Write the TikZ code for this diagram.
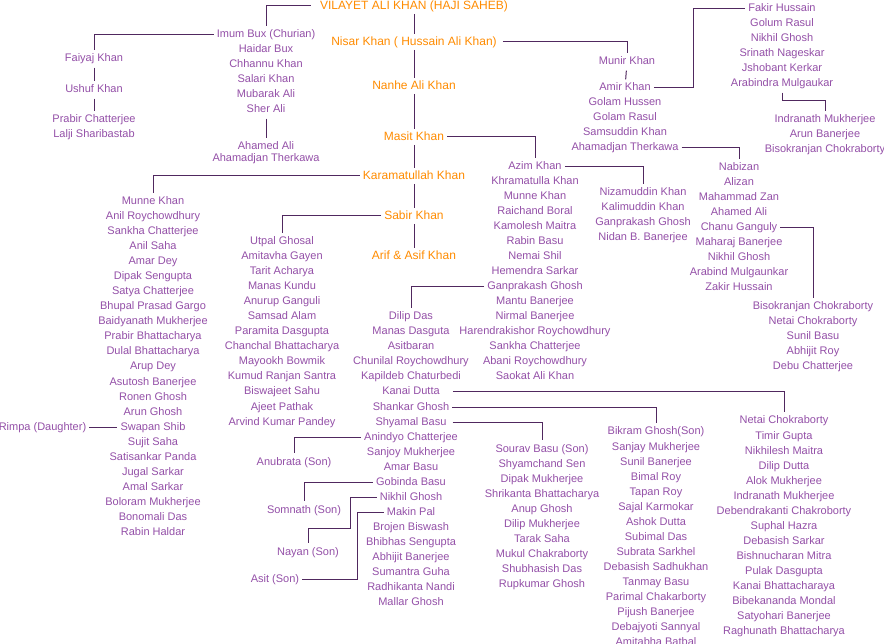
\documentclass[tikz,border=0pt]{standalone}
\usepackage{fontspec}
\setmainfont{Liberation Sans}
\definecolor{namec}{RGB}{148,80,168}
\definecolor{mainc}{RGB}{255,140,0}
\definecolor{linec}{RGB}{80,40,95}
\tikzset{
  pname/.style={text=namec, font=\fontsize{11}{13}\selectfont, inner xsep=3pt, inner ysep=3.5pt, text height=8pt, text depth=2pt},
  mname/.style={text=mainc, font=\fontsize{12}{14}\selectfont, inner xsep=3pt, inner ysep=2pt, text height=9pt, text depth=2.5pt},
  link/.style={draw=linec, line width=1pt}
}
\newcommand\namecol[4]{\foreach \t [count=\i] in {#4} {\node[pname] (#1-\i) at ({#2},{#3+15*(\i-1)}) {\t};}}
\begin{document}
\begin{tikzpicture}[x=1pt,y=-1pt]
\useasboundingbox[fill=white] (0,0) rectangle (884,644);
\begin{scope}[shift={(0,2)}]
% main line
\node[mname] (vil) at (414,4) {VILAYET ALI KHAN (HAJI SAHEB)};
\node[mname] (nis) at (414,40) {Nisar Khan ( Hussain Ali Khan)};
\node[mname] (nan) at (414,84) {Nanhe Ali Khan};
\node[mname] (mas) at (414,135) {Masit Khan};
\node[mname] (kar) at (414,174) {Karamatullah Khan};
\node[mname] (sab) at (414,214) {Sabir Khan};
\node[mname] (ari) at (414,254) {Arif \& Asif Khan};
% lists
\namecol{i}{266}{33}{Imum Bux (Churian),Haidar Bux,Chhannu Khan,Salari Khan,Mubarak Ali,Sher Ali}
\node[pname] (ah1) at (266,145) {Ahamed Ali};
\node[pname] (ah2) at (266,157) {Ahamadjan Therkawa};
\node[pname] (fai) at (94,57) {Faiyaj Khan};
\node[pname] (ush) at (94,88) {Ushuf Khan};
\namecol{pr}{94}{118}{Prabir Chatterjee,Lalji Sharibastab}
\namecol{m}{153}{200}{Munne Khan,Anil Roychowdhury,Sankha Chatterjee,Anil Saha,Amar Dey,Dipak Sengupta,Satya Chatterjee,Bhupal Prasad Gargo,Baidyanath Mukherjee,Prabir Bhattacharya,Dulal Bhattacharya,Arup Dey,Asutosh Banerjee,Ronen Ghosh,Arun Ghosh,Swapan Shib,Sujit Saha,Satisankar Panda,Jugal Sarkar,Amal Sarkar,Boloram Mukherjee,Bonomali Das,Rabin Haldar}
\node[pname] (rim) at (42.5,425) {Rimpa (Daughter)};
\namecol{u}{282}{240}{Utpal Ghosal,Amitavha Gayen,Tarit Acharya,Manas Kundu,Anurup Ganguli,Samsad Alam,Paramita Dasgupta,Chanchal Bhattacharya,Mayookh Bowmik,Kumud Ranjan Santra,Biswajeet Sahu,Ajeet Pathak,Arvind Kumar Pandey}
\namecol{az}{535}{165}{Azim Khan,Khramatulla Khan,Munne Khan,Raichand Boral,Kamolesh Maitra,Rabin Basu,Nemai Shil,Hemendra Sarkar,Ganprakash Ghosh,Mantu Banerjee,Nirmal Banerjee,Harendrakishor Roychowdhury,Sankha Chatterjee,Abani Roychowdhury,Saokat Ali Khan}
\namecol{d}{411}{315}{Dilip Das,Manas Dasguta,Asitbaran,Chunilal Roychowdhury,Kapildeb Chaturbedi,Kanai Dutta,Shankar Ghosh,Shyamal Basu,Anindyo Chatterjee,Sanjoy Mukherjee,Amar Basu,Gobinda Basu,Nikhil Ghosh,Makin Pal,Brojen Biswash,Bhibhas Sengupta,Abhijit Banerjee,Sumantra Guha,Radhikanta Nandi,Mallar Ghosh}
\namecol{nz}{643}{191}{Nizamuddin Khan,Kalimuddin Khan,Ganprakash Ghosh,Nidan B. Banerjee}
\node[pname] (mun) at (627,60) {Munir Khan};
\namecol{am}{625}{86}{Amir Khan,Golam Hussen,Golam Rasul,Samsuddin Khan,Ahamadjan Therkawa}
\namecol{f}{782}{7}{Fakir Hussain,Golum Rasul,Nikhil Ghosh,Srinath Nageskar,Jshobant Kerkar,Arabindra Mulgaukar}
\namecol{ind}{825}{118}{Indranath Mukherjee,Arun Banerjee,Bisokranjan Chokraborty}
\namecol{nb}{739}{166}{Nabizan,Alizan,Mahammad Zan,Ahamed Ali,Chanu Ganguly,Maharaj Banerjee,Nikhil Ghosh,Arabind Mulgaunkar,Zakir Hussain}
\namecol{bc}{813}{305}{Bisokranjan Chokraborty,Netai Chokraborty,Sunil Basu,Abhijit Roy,Debu Chatterjee}
\namecol{ne}{784}{419}{Netai Chokraborty,Timir Gupta,Nikhilesh Maitra,Dilip Dutta,Alok Mukherjee,Indranath Mukherjee,Debendrakanti Chakroborty,Suphal Hazra,Debasish Sarkar,Bishnucharan Mitra,Pulak Dasgupta,Kanai Bhattacharaya,Bibekananda Mondal,Satyohari Banerjee,Raghunath Bhattacharya}
\namecol{bk}{656}{430}{Bikram Ghosh(Son),Sanjay Mukherjee,Sunil Banerjee,Bimal Roy,Tapan Roy,Sajal Karmokar,Ashok Dutta,Subimal Das,Subrata Sarkhel,Debasish Sadhukhan,Tanmay Basu,Parimal Chakarborty,Pijush Banerjee,Debajyoti Sannyal,Amitabha Batbal}
\namecol{so}{542}{447}{Sourav Basu (Son),Shyamchand Sen,Dipak Mukherjee,Shrikanta Bhattacharya,Anup Ghosh,Dilip Mukherjee,Tarak Saha,Mukul Chakraborty,Shubhasish Das,Rupkumar Ghosh}
\node[pname] (anu) at (294,460) {Anubrata (Son)};
\node[pname] (som) at (304,508) {Somnath (Son)};
\node[pname] (nay) at (308,550) {Nayan (Son)};
\node[pname] (asi) at (275,577) {Asit (Son)};
% connectors
\draw[link] (vil) -- (nis);
\draw[link] (nis) -- (nan);
\draw[link] (nan) -- (mas);
\draw[link] (mas) -- (kar);
\draw[link] (kar) -- (sab);
\draw[link] (sab) -- (ari);
\draw[link] ([xshift=-6pt]vil.west) -| (i-1.north);
\draw[link] (i-1.west) -| (fai.north);
\draw[link] (fai) -- (ush);
\draw[link] (ush) -- (pr-1);
\draw[link] (i-6) -- (ah1);
\draw[link] (kar.west) -| (m-1.north);
\draw[link] (rim) -- (m-16);
\draw[link] (sab.west) -| (u-1.north);
\draw[link] (mas.east) -| (az-1.north);
\draw[link] (az-1.east) -| (nz-1.north);
\draw[link] (az-9.west) -| (d-1.north);
\draw[link] ([xshift=3pt]nis.east) -| (mun.north);
\draw[link] (mun) -- (am-1);
\coordinate (fk) at (693,0);
\draw[link] (am-1.east) -| (f-1.west -| fk) -- (f-1.west);
\draw[link] (f-6.south) -- ++(0,8) -| (ind-1.north);
\draw[link] (am-5.east) -| (nb-1.north);
\draw[link] (nb-5.east) -| (bc-1.north);
\draw[link] ([xshift=10pt]d-6.east) -| (ne-1.north);
\draw[link] (d-7.east) -| (bk-1.north);
\draw[link] ([xshift=3pt]d-8.east) -| (so-1.north);
\draw[link] (d-9.west) -| (anu.north);
\draw[link] (d-12.west) -| (som.north);
\coordinate (nk) at (350,526);
\draw[link] (d-13.west) -| (nk) -| (nay.north);
\coordinate (mk) at (357,0);
\draw[link] (d-14.west) -| (asi.east -| mk) -- (asi.east);
\end{scope}
\end{tikzpicture}
\end{document}
